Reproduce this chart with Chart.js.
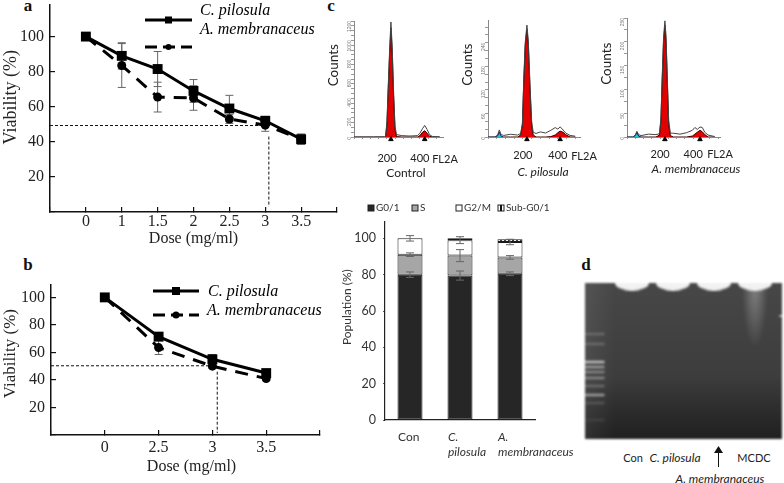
<!DOCTYPE html>
<html>
<head>
<meta charset="utf-8">
<title>Viability, cell cycle and DNA fragmentation</title>
<script src="https://cdn.jsdelivr.net/npm/chart.js@4"></script>
<style>
    html, body { margin: 0; padding: 0; background: #fff; }
    body { width: 784px; height: 483px; position: relative; overflow: hidden; }
    canvas { position: absolute; }
    .hist { filter: blur(0.5px); }
    #gel { filter: blur(1.1px); }
    .txt { position: absolute; transform: translate(-50%, -50%); white-space: nowrap; color: #222; font: 12px Lato, sans-serif; }
    .it { font-style: italic; }
    .letter { position: absolute; transform: translate(-50%, -50%); color: #111; font: bold 17px "Liberation Serif", serif; }
    svg { position: absolute; }
</style>
</head>
<body>
<span class="letter" style="left:28px;top:6px">a</span>
<span class="letter" style="left:28px;top:265px">b</span>
<span class="letter" style="left:331px;top:6px">c</span>
<span class="letter" style="left:586px;top:265px">d</span>

<canvas id="chartA"></canvas>
<canvas id="chartB"></canvas>
<canvas id="histControl" class="hist"></canvas>
<canvas id="histPilosula" class="hist"></canvas>
<canvas id="histMembran" class="hist"></canvas>
<canvas id="chartBars"></canvas>
<canvas id="gel"></canvas>

<span class="txt" style="left:445px;top:158px;font-size:11px">FL2A</span>
<span class="txt" style="left:584px;top:155px;font-size:11px">FL2A</span>
<span class="txt" style="left:720px;top:153px;font-size:11px">FL2A</span>
<span class="txt" style="left:406px;top:172px">Control</span>
<span class="txt it" style="left:543px;top:171px">C. pilosula</span>
<span class="txt it" style="left:696px;top:168px">A. membranaceus</span>

<span class="txt" style="left:633px;top:457px;font-size:11px">Con</span>
<span class="txt it" style="left:675px;top:457px">C. pilosula</span>
<span class="txt" style="left:754px;top:457px;font-size:11px">MCDC</span>
<span class="txt it" style="left:720px;top:478px">A. membranaceus</span>
<svg style="left:712px;top:445px" width="14" height="22">
    <path d="M6.5 22V6" stroke="#111" stroke-width="1"/>
    <path d="M6.5 1L11 8H2Z" fill="#111"/>
</svg>

<script>
// panel a
const dosesA = ["0", "1", "1.5", "2", "2.5", "3", "3.5"];
const pilosulaA = [100, 89, 81.5, 69, 59, 52, 41.5];
const membranA = [100, 83.5, 65.5, 65, 53, 49.5, 41.5];
const pilosulaErrA = [0, 7.5, 10, 6.5, 7.5, 2.5, 3];
const membranErrA = [0, 12.5, 8.5, 7, 2.5, 3.5, 2.5];
const ic50LineAx = [-1, 5.05];
const ic50LineAy = [49.3, 49.3];
const ic50DropAx = [5.1, 5.1];
const ic50DropAy = [43, 3];

// panel b
const dosesB = ["0", "2.5", "3", "3.5"];
const pilosulaB = [100, 71.5, 55, 45];
const membranB = [100, 63.5, 50, 41];
const pilosulaErrB = [0, 1.5, 3.5, 1.5];
const membranErrB = [0, 5, 1.5, 1.5];
const ic50LineBx = [-1, 2];
const ic50LineBy = [50.3, 50.3];
const ic50DropBx = [2.09, 2.09];
const ic50DropBy = [46, 1.5];

// panel c, histograms
const channelsControl = [0, 120, 186, 192, 200, 208, 216, 224, 232, 240, 249, 258, 290, 340, 385, 400, 415, 429, 443, 458, 475, 520];
const rawControl = [0, 0, 2, 10, 170, 550, 900, 1190, 930, 480, 110, 25, 14, 10, 14, 40, 85, 120, 80, 25, 6, 1];
const fitControl = [0, 0, 0, 6, 130, 500, 850, 1130, 870, 430, 70, 4, 0, 0, 0, 15, 48, 65, 40, 8, 0, 0];
const gateControlX = [224, 429];
const gateControlY = [-24, -24];

const channelsPilosula = [0, 40, 55, 65, 75, 90, 130, 170, 187, 197, 205, 213, 223, 231, 240, 250, 259, 275, 300, 330, 360, 385, 400, 413, 430, 445, 470, 500];
const rawPilosula = [0, 0, 5, 18, 6, 4, 7, 5, 9, 35, 150, 240, 285, 245, 140, 40, 12, 9, 13, 10, 17, 24, 20, 26, 18, 10, 4, 2];
const fitPilosula = [0, 0, 3, 13, 2, 0, 0, 0, 5, 30, 140, 230, 275, 235, 130, 30, 5, 0, 0, 0, 1, 5, 11, 15, 12, 6, 0, 0];
const gatePilosulaX = [223, 413];
const gatePilosulaY = [-6, -6];

const channelsMembran = [0, 35, 50, 60, 70, 85, 130, 175, 196, 205, 213, 221, 229, 236, 244, 252, 262, 280, 320, 360, 395, 410, 425, 441, 455, 470, 490, 530];
const rawMembran = [0, 0, 4, 12, 5, 3, 6, 5, 7, 40, 130, 210, 244, 212, 120, 35, 8, 8, 6, 9, 14, 20, 16, 21, 20, 10, 4, 1];
const fitMembran = [0, 0, 3, 10, 2, 0, 0, 0, 4, 34, 122, 200, 235, 200, 110, 26, 3, 0, 0, 0, 2, 6, 10, 14, 11, 5, 0, 0];
const gateMembranX = [229, 441];
const gateMembranY = [-5, -5];

// panel c, stacked bars
const groupLabels = ["Con", ["C.", "pilosula"], ["A.", "membranaceus"]];
const g01 = [80, 79.5, 80.5];
const sPhase = [11, 11, 9];
const g2m = [9, 8.5, 8.5];
const subG01 = [0, 1, 1.5];
const g01Err = [1.5, 2.5, 1];
const sPhaseErr = [1, 3.3, 1];
const g2mErr = [1.5, 1.9, 1.5];

// panel d, gel
const ladderBands = [51, 61, 79, 84, 89, 95, 103, 112, 120, 137];
const ladderShade = [105, 105, 185, 150, 130, 130, 105, 150, 85, 65];
const sampleLanes = [1, 2, 3, 4];
const sampleWells = [0, 0, 0, 0];

const serif = '"Liberation Serif", serif';

// fixes the plot rectangle in page pixels, m = room around it for labels
function frame(id, plot, m) {
    const c = document.getElementById(id);
    c.width = plot.r - plot.l + m.l + m.r;
    c.height = plot.b - plot.t + m.t + m.b;
    c.style.left = (plot.l - m.l) + "px";
    c.style.top = (plot.t - m.t) + "px";
    return {
        ctx: c,
        layout: { padding: { top: m.t, right: m.r, left: 0, bottom: 0 }, autoPadding: false },
        fitX: s => { s.height = m.b; s.paddingLeft = 0; s.paddingRight = 0; },
        fitY: s => { s.width = m.l; s.paddingTop = 0; s.paddingBottom = 0; }
    };
}

const errorBars = {
    id: "errorBars",
    draw(chart) {
        const ctx = chart.ctx;
        const yScale = chart.scales.y;
        ctx.save();
        ctx.strokeStyle = "#666";
        ctx.lineWidth = 1;
        chart.data.datasets.forEach((ds, i) => {
            if (!ds.errors) return;
            chart.getDatasetMeta(i).data.forEach((el, j) => {
                if (!ds.errors[j]) return;
                const h = Math.abs(yScale.getPixelForValue(0) - yScale.getPixelForValue(ds.errors[j]));
                ctx.beginPath();
                ctx.moveTo(el.x, el.y - h);
                ctx.lineTo(el.x, el.y + h);
                ctx.moveTo(el.x - 4, el.y - h);
                ctx.lineTo(el.x + 4, el.y - h);
                ctx.moveTo(el.x - 4, el.y + h);
                ctx.lineTo(el.x + 4, el.y + h);
                ctx.stroke();
            });
        });
        ctx.restore();
    },
    beforeDatasetsDraw(chart) {
        if (chart.config.type === "line") this.draw(chart);
    },
    afterDatasetsDraw(chart) {
        if (chart.config.type === "bar") this.draw(chart);
    }
};

// the line samples sit apart from their texts in this figure, so no built-in legend
const sampleLegend = {
    id: "sampleLegend",
    afterDraw(chart, args, opts) {
        if (!opts.items) return;
        const ctx = chart.ctx;
        const ox = chart.canvas.offsetLeft, oy = chart.canvas.offsetTop;
        ctx.save();
        opts.items.forEach(it => {
            const y = it.y - oy;
            ctx.strokeStyle = "#000";
            ctx.fillStyle = "#000";
            ctx.lineWidth = 3;
            ctx.setLineDash(it.dash || []);
            ctx.beginPath();
            ctx.moveTo(it.x1 - ox, y);
            ctx.lineTo(it.x2 - ox, y);
            ctx.stroke();
            ctx.setLineDash([]);
            const mid = (it.x1 + it.x2) / 2 - ox;
            if (it.square) ctx.fillRect(mid - it.size / 2, y - it.size / 2, it.size, it.size);
            else {
                ctx.beginPath();
                ctx.arc(mid, y, it.size / 2, 0, Math.PI * 2);
                ctx.fill();
            }
            ctx.font = 'italic 16px ' + serif;
            ctx.textBaseline = "middle";
            ctx.fillText(it.label, it.textX - ox, it.textY - oy);
        });
        ctx.restore();
    }
};

const swatchLegend = {
    id: "swatchLegend",
    afterDraw(chart, args, opts) {
        if (!opts.xs) return;
        const ctx = chart.ctx;
        const ox = chart.canvas.offsetLeft, oy = chart.canvas.offsetTop;
        const y = opts.y - oy;
        ctx.save();
        ctx.font = "10px Lato, sans-serif";
        ctx.textBaseline = "middle";
        chart.data.datasets.forEach((ds, i) => {
            const x = opts.xs[i] - ox;
            ctx.fillStyle = ds.backgroundColor;
            ctx.fillRect(x, y - 3, 6, 6);
            ctx.strokeStyle = "#222";
            ctx.strokeRect(x, y - 3, 6, 6);
            ctx.fillStyle = "#333";
            ctx.fillText(ds.label, x + 8, y);
        });
        ctx.restore();
    }
};

const gelBackdrop = {
    id: "gelBackdrop",
    beforeDatasetsDraw(chart) {
        if (chart.canvas.id !== "gel") return;
        const { ctx, chartArea: a, scales } = chart;
        const g = ctx.createLinearGradient(0, a.top, 0, a.bottom);
        g.addColorStop(0, "#474747");
        g.addColorStop(0.6, "#3d3d3d");
        g.addColorStop(0.85, "#2a2a2a");
        g.addColorStop(1, "#202020");
        ctx.save();
        ctx.fillStyle = g;
        ctx.fillRect(a.left, a.top, a.width, a.height);
        const side = ctx.createLinearGradient(a.left, 0, a.left + 30, 0);
        side.addColorStop(0, "rgba(255,255,255,0.07)");
        side.addColorStop(1, "rgba(255,255,255,0)");
        ctx.fillStyle = side;
        ctx.fillRect(a.left, a.top, 30, a.height);
        // smear under the MCDC well
        const mx = scales.x.getPixelForValue(4);
        ctx.translate(mx, a.top);
        ctx.scale(1, 5);
        const smear = ctx.createRadialGradient(0, 0, 0, 0, 0, 13);
        smear.addColorStop(0, "rgba(255,255,255,0.33)");
        smear.addColorStop(1, "rgba(255,255,255,0)");
        ctx.fillStyle = smear;
        ctx.fillRect(-13, 0, 26, 13);
        ctx.restore();
    }
};

Chart.register(errorBars, sampleLegend, swatchLegend, gelBackdrop);
Chart.defaults.animation = false;
Chart.defaults.responsive = false;
Chart.defaults.color = "#222";

function toPoints(xs, ys) {
    return xs.map((x, i) => ({ x: x, y: ys[i] }));
}

function viabilityChart(id, plot, margins, cfg) {
    const f = frame(id, plot, margins);
    const refLine = (xs, ys) => ({
        data: toPoints(xs, ys), borderColor: "#111", borderWidth: 1, borderDash: [3, 2],
        pointRadius: 0, clip: false
    });
    return new Chart(f.ctx, {
        type: "line",
        data: {
            datasets: [
                {
                    label: "C. pilosula",
                    data: cfg.pilosula.map((v, i) => ({ x: i, y: v })),
                    errors: cfg.pilosulaErr,
                    borderColor: "#000", backgroundColor: "#000", borderWidth: 3,
                    pointStyle: "rect", pointRadius: 7, pointBorderWidth: 0, clip: false
                },
                {
                    label: "A. membranaceus",
                    data: cfg.membran.map((v, i) => ({ x: i, y: v })),
                    errors: cfg.membranErr,
                    borderColor: "#000", backgroundColor: "#000", borderWidth: 3, borderDash: [13, 9],
                    pointStyle: "circle", pointRadius: 4.5, pointBorderWidth: 0, clip: false
                },
                refLine(cfg.lineX, cfg.lineY),
                refLine(cfg.dropX, cfg.dropY)
            ]
        },
        options: {
            layout: f.layout,
            plugins: {
                legend: { display: false },
                tooltip: { enabled: false },
                sampleLegend: { items: cfg.legend }
            },
            scales: {
                x: {
                    type: "linear",
                    min: -1,
                    max: cfg.doses.length,
                    afterFit: f.fitX,
                    border: { color: "#111", width: 1.5 },
                    grid: { drawOnChartArea: false, tickLength: -5, color: "#111", lineWidth: 1.2 },
                    ticks: {
                        stepSize: 1, padding: cfg.xPad, maxRotation: 0, autoSkip: false,
                        font: { family: serif, size: 16 }, color: "#222",
                        callback: v => cfg.doses[v] || ""
                    },
                    title: {
                        display: true, text: cfg.xTitle, color: "#222",
                        font: { family: serif, size: 16 }, padding: 0
                    }
                },
                y: {
                    min: 0,
                    max: cfg.yMax,
                    afterFit: f.fitY,
                    border: { color: "#111", width: 1.5 },
                    grid: { drawOnChartArea: false, tickLength: -5, color: "#111", lineWidth: 1.2 },
                    ticks: {
                        stepSize: 20, padding: 11, includeBounds: false,
                        font: { family: serif, size: 16 }, color: "#222",
                        callback: v => v === 0 ? "" : v
                    },
                    title: {
                        display: true, text: cfg.yTitle, color: "#222",
                        font: { family: serif, size: cfg.yTitleSize }, padding: 0
                    }
                }
            }
        }
    });
}

viabilityChart("chartA", { l: 50, t: 5, r: 337, b: 212 }, { l: 50, t: 5, r: 6, b: 36 }, {
    doses: dosesA, pilosula: pilosulaA, membran: membranA,
    pilosulaErr: pilosulaErrA, membranErr: membranErrA,
    lineX: ic50LineAx, lineY: ic50LineAy, dropX: ic50DropAx, dropY: ic50DropAy,
    yMax: 118, xTitle: "Dose (mg/ml)", xPad: 5,
    // leading spaces lift the centred title to where the figure has it
    yTitle: "     Viability (%)", yTitleSize: 18,
    legend: [
        { label: "C. pilosula", x1: 145, x2: 192, y: 20, square: true, size: 7, textX: 200, textY: 11 },
        { label: "A. membranaceus", x1: 145, x2: 192, y: 47, dash: [12, 6], size: 6, textX: 200, textY: 30 }
    ]
});

viabilityChart("chartB", { l: 51, t: 285, r: 320, b: 435 }, { l: 51, t: 5, r: 6, b: 41 }, {
    doses: dosesB, pilosula: pilosulaB, membran: membranB,
    pilosulaErr: pilosulaErrB, membranErr: membranErrB,
    lineX: ic50LineBx, lineY: ic50LineBy, dropX: ic50DropBx, dropY: ic50DropBy,
    yMax: 109, xTitle: "   Dose (mg/ml)", xPad: 8,
    yTitle: "   Viability (%)", yTitleSize: 17,
    legend: [
        { label: "C. pilosula", x1: 153, x2: 199, y: 291, square: true, size: 8, textX: 208, textY: 292 },
        { label: "A. membranaceus", x1: 153, x2: 199, y: 315, dash: [12, 6], size: 7, textX: 207, textY: 311 }
    ]
});

function histogram(id, plot, cfg) {
    const f = frame(id, plot, { l: 28, t: 4, r: 6, b: 34 });
    return new Chart(f.ctx, {
        type: "line",
        data: {
            datasets: [
                {
                    data: toPoints(cfg.gateX, cfg.gateY), showLine: false, clip: false,
                    pointStyle: "triangle", pointRadius: 2.6, backgroundColor: "#000", borderColor: "#000"
                },
                {
                    data: toPoints(cfg.channels, cfg.raw), borderColor: "#444", borderWidth: 1,
                    pointRadius: 0, fill: false
                },
                {
                    data: toPoints(cfg.channels, cfg.fit), borderColor: "#3a0000", borderWidth: 1,
                    backgroundColor: "#e30000", pointRadius: 0, fill: "origin",
                    segment: {
                        backgroundColor: s => s.p1.parsed.x < 120 ? "#22c8c8" : undefined,
                        borderColor: s => s.p1.parsed.x < 120 ? "#116" : undefined
                    }
                }
            ]
        },
        options: {
            layout: f.layout,
            plugins: { legend: { display: false }, tooltip: { enabled: false } },
            scales: {
                x: {
                    type: "linear", min: 0, max: cfg.xMax, afterFit: f.fitX,
                    border: { color: "#888" },
                    grid: { drawOnChartArea: false, tickLength: 2, color: "#999" },
                    ticks: {
                        stepSize: 50, autoSkip: false, maxRotation: 0, includeBounds: false,
                        padding: cfg.tickPad, color: "#222", font: { family: "Lato", size: 11 },
                        callback: v => (v === 200 || v === 400) ? v : ""
                    }
                },
                y: {
                    min: 0, max: cfg.yMax, afterFit: f.fitY,
                    border: { color: "#888" },
                    grid: { drawOnChartArea: false, tickLength: 3, color: "#999" },
                    ticks: {
                        stepSize: cfg.yStep, autoSkip: false, includeBounds: false, padding: 1,
                        minRotation: 90, maxRotation: 90, color: "#777", font: { size: 5 },
                        callback: v => v % cfg.yLabelEvery === 0 ? v : ""
                    },
                    title: {
                        display: true, text: "        Counts", color: "#222", padding: 0,
                        font: { family: "Lato", size: 13.5 }
                    }
                }
            }
        }
    });
}

histogram("histControl", { l: 354, t: 21, r: 443, b: 137 }, {
    channels: channelsControl, raw: rawControl, fit: fitControl,
    gateX: gateControlX, gateY: gateControlY,
    xMax: 540, yMax: 1200, yStep: 50, yLabelEvery: 200, tickPad: 13
});
histogram("histPilosula", { l: 488, t: 20, r: 580, b: 137 }, {
    channels: channelsPilosula, raw: rawPilosula, fit: fitPilosula,
    gateX: gatePilosulaX, gateY: gatePilosulaY,
    xMax: 527, yMax: 298, yStep: 20, yLabelEvery: 60, tickPad: 10
});
histogram("histMembran", { l: 627, t: 18, r: 720, b: 137 }, {
    channels: channelsMembran, raw: rawMembran, fit: fitMembran,
    gateX: gateMembranX, gateY: gateMembranY,
    xMax: 562, yMax: 250, yStep: 25, yLabelEvery: 50, tickPad: 9
});

// dashes for the thin Sub-G0/1 layer
function dashPattern() {
    const p = document.createElement("canvas");
    p.width = 4;
    p.height = 2;
    const c = p.getContext("2d");
    c.fillStyle = "#fff";
    c.fillRect(0, 0, 4, 2);
    c.fillStyle = "#111";
    c.fillRect(0, 0, 2, 2);
    return c.createPattern(p, "repeat");
}

const barFrame = frame("chartBars", { l: 385, t: 222, r: 535, b: 420 }, { l: 45, t: 27, r: 45, b: 42 });
new Chart(barFrame.ctx, {
    type: "bar",
    data: {
        labels: groupLabels,
        datasets: [
            { label: "G0/1", data: g01, errors: g01Err, backgroundColor: "#262626" },
            { label: "S", data: sPhase, errors: sPhaseErr, backgroundColor: "#a6a6a6" },
            { label: "G2/M", data: g2m, errors: g2mErr, backgroundColor: "#ffffff" },
            { label: "Sub-G0/1", data: subG01, backgroundColor: dashPattern() }
        ].map(d => Object.assign(d, {
            borderColor: "#1a1a1a", borderWidth: 1, borderSkipped: false,
            barPercentage: 0.5, categoryPercentage: 1
        }))
    },
    options: {
        layout: barFrame.layout,
        plugins: {
            legend: { display: false },
            tooltip: { enabled: false },
            swatchLegend: { xs: [368, 412, 456, 498], y: 208 }
        },
        scales: {
            x: {
                stacked: true,
                afterFit: barFrame.fitX,
                border: { color: "#222", width: 1.2 },
                grid: { display: false, drawTicks: false },
                ticks: {
                    align: "start", labelOffset: -12, padding: 9, maxRotation: 0, autoSkip: false,
                    color: "#333",
                    font: c => ({ family: "Lato", size: 12, lineHeight: 1.3, style: c.index === 0 ? "normal" : "italic" })
                }
            },
            y: {
                stacked: true,
                min: 0,
                max: 109,
                afterFit: barFrame.fitY,
                border: { color: "#222", width: 1.2 },
                grid: { drawOnChartArea: false, tickLength: 2, color: "#555" },
                ticks: {
                    stepSize: 20, includeBounds: false, padding: 7, color: "#333",
                    font: { family: "Lato", size: 12.5 }
                },
                title: {
                    display: true, text: "         Population (%)", color: "#333", padding: 0,
                    font: { family: "Lato", size: 12 }
                }
            }
        }
    }
});

// flat-topped glow of a loading well, half of it falls outside the gel
function wellShape() {
    const p = document.createElement("canvas");
    p.width = 34;
    p.height = 15;
    const c = p.getContext("2d");
    c.fillStyle = "#f2f2f2";
    c.beginPath();
    c.ellipse(17, 7.5, 17, 7.5, 0, 0, Math.PI * 2);
    c.fill();
    return p;
}

const gelFrame = frame("gel", { l: 585, t: 283, r: 782, b: 439 }, { l: 0, t: 0, r: 0, b: 0 });
new Chart(gelFrame.ctx, {
    type: "line",
    data: {
        datasets: [
            {
                data: toPoints(sampleLanes, sampleWells), showLine: false,
                pointStyle: wellShape()
            },
            {
                data: ladderBands.map(y => ({ x: 0.085, y: y })), showLine: false,
                pointStyle: "line", pointRadius: 10, pointBorderWidth: 2.6,
                borderColor: ladderShade.map(v => `rgb(${v},${v},${v})`)
            },
            {
                data: [{ x: 4.64, y: 33 }], showLine: false,
                pointStyle: "line", pointRadius: 2, pointBorderWidth: 1.5, borderColor: "#ddd"
            }
        ]
    },
    options: {
        layout: gelFrame.layout,
        plugins: { legend: { display: false }, tooltip: { enabled: false } },
        scales: {
            x: { type: "linear", display: false, min: -0.146, max: 4.66 },
            y: { display: false, reverse: true, min: 0, max: 156 }
        }
    }
});
</script>
</body>
</html>
